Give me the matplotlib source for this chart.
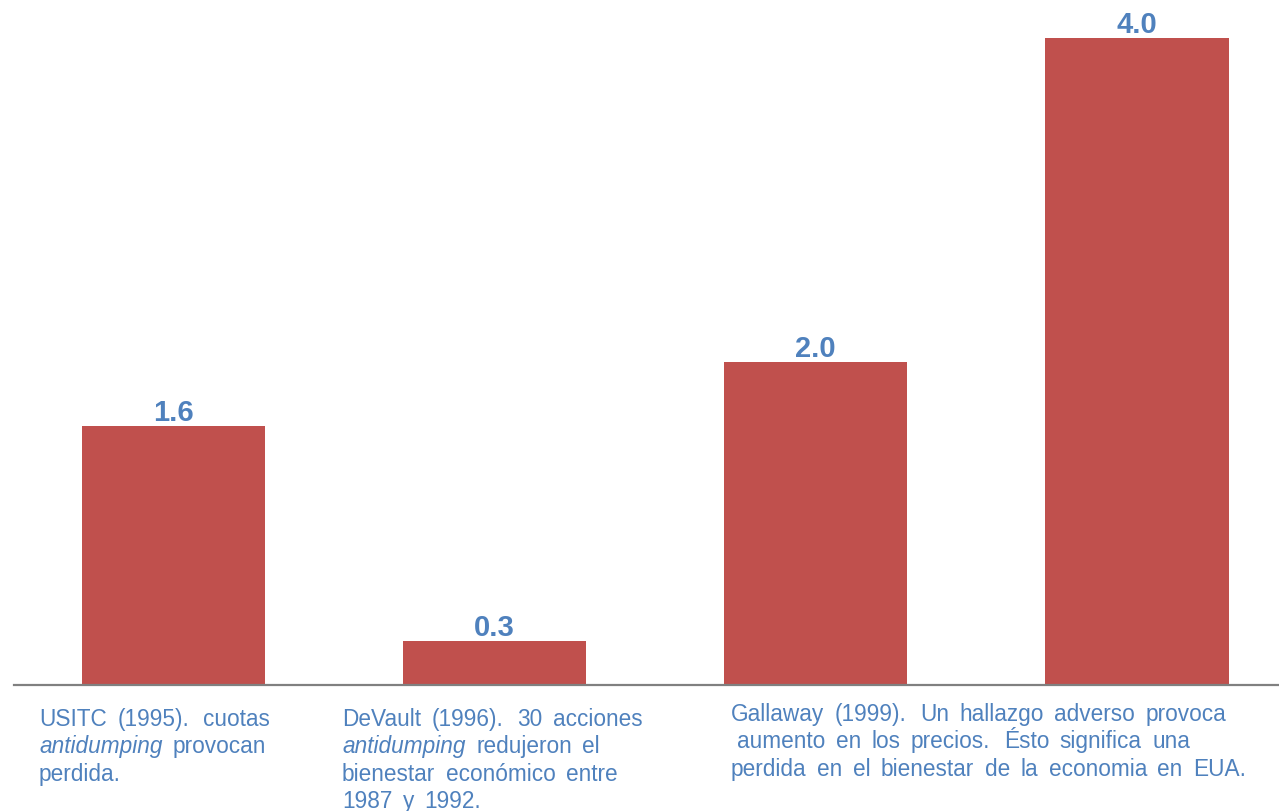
import matplotlib
matplotlib.use("Agg")
import matplotlib.pyplot as plt

values = [1.6, 0.27, 2.0, 4.0]
value_labels = ["1.6", "0.3", "2.0", "4.0"]
bar_color = "#C0504D"
text_color = "#4F81BD"

# Category descriptions: list of lines; each line is a list of (text, italic) pieces
desc1 = [[("USITC (1995). cuotas", False)],
         [("antidumping", True), ("provocan", False)],
         [("perdida.", False)]]
desc2 = [[("DeVault (1996). 30 acciones", False)],
         [("antidumping", True), ("redujeron el", False)],
         [("bienestar económico entre", False)],
         [("1987 y 1992.", False)]]
desc3 = [[("Gallaway (1999). Un hallazgo adverso provoca", False)],
         [("aumento en los precios. Ésto significa una", False)],
         [("perdida en el bienestar de la economia en EUA.", False)]]
descs = [desc1, desc2, desc3]
# left x, baseline of first line, indent per line (pixels)
desc_px = [(39, 726, [0, 0, 0]), (342, 726, [0, 0, 0, 0]), (731, 721, [0, 6, 0])]

plt.rcParams['font.family'] = ['Liberation Sans', 'DejaVu Sans']

W, H = 1279, 812
fig = plt.figure(figsize=(W / 100, H / 100), dpi=100)
ax = fig.add_axes([14 / W, 1 - 686 / H, (1279 - 14) / W, 686 / H])
x = list(range(len(values)))
ax.bar(x, values, width=0.57, color=bar_color, zorder=2)
ax.set_xlim(-0.496, 3.442)
ax.set_ylim(0, 686 / 161.75)
for xi, v, lab in zip(x, values, value_labels):
    ax.annotate(lab, (xi, v), xytext=(0, 4.3), textcoords="offset points",
                ha="center", va="baseline", fontsize=21, fontweight="bold",
                color=text_color)
for s in ["top", "right", "left"]:
    ax.spines[s].set_visible(False)
ax.spines["bottom"].set_color("#808080")
ax.spines["bottom"].set_linewidth(1.6)
ax.set_xticks([])
ax.set_yticks([])

fig.canvas.draw()
renderer = fig.canvas.get_renderer()
line_h = 27.5
fs = 16.3
gap = 10.5
gap_period = 13.5
for desc, (lx, by, indents) in zip(descs, desc_px):
    for i, line in enumerate(desc):
        cx = lx + indents[i]
        y = H - (by + i * line_h)
        for txt, it in line:
            for w in txt.split():
                t = fig.text(cx / W, y / H, w, fontsize=fs, color=text_color,
                             style="italic" if it else "normal",
                             ha="left", va="baseline")
                bb = t.get_window_extent(renderer)
                cx = cx + bb.width + (gap_period if w.endswith('.') else gap)

fig.savefig("out.png", dpi=100)
